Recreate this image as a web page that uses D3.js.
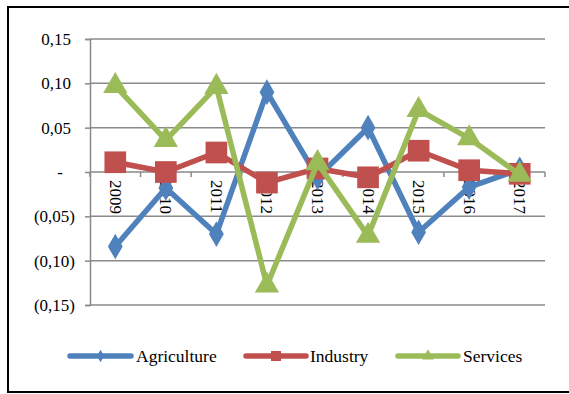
<!DOCTYPE html>
<html>
<head>
<meta charset="utf-8">
<script src="https://cdn.jsdelivr.net/npm/d3@7/dist/d3.min.js"></script>
<style>
  html, body { margin: 0; padding: 0; background: #fff; }
  svg { display: block; }
</style>
</head>
<body>
<svg id="chart" width="569" height="394" font-family="'Liberation Serif', 'Times New Roman', Times, serif"></svg>
<script>
// Annual growth rates by sector
const years = ["2009", "2010", "2011", "2012", "2013", "2014", "2015", "2016", "2017"];
const agriculture = [-0.084, -0.018, -0.070, 0.090, -0.006, 0.050, -0.068, -0.017, 0.003];
const industry    = [0.011, 0.000, 0.022, -0.012, 0.004, -0.006, 0.024, 0.002, -0.002];
const services    = [0.097, 0.036, 0.096, -0.128, 0.010, -0.072, 0.070, 0.038, -0.003];
const yTicks = [0.15, 0.10, 0.05, 0, -0.05, -0.10, -0.15];
const seriesNames = ["Agriculture", "Industry", "Services"];

const colors = { Agriculture: "#4F81BD", Industry: "#C0504D", Services: "#9BBB59" };
const shapes = { Agriculture: d3.symbolDiamond, Industry: d3.symbolSquare, Services: d3.symbolTriangle };
const markerSize = { Agriculture: 190, Industry: 470, Services: 255 };
const legendMarkerSize = { Agriculture: 45, Industry: 100, Services: 60 };
const FONT = "Liberation Serif";

const svg = d3.select("#chart");

// Outer frame
svg.append("rect")
  .attr("x", 8).attr("y", 7).attr("width", 580).attr("height", 385)
  .attr("fill", "none").attr("stroke", "#000").attr("stroke-width", 2);

const x = d3.scaleBand().domain(years).range([90, 545]).paddingInner(0).paddingOuter(0);
const y = d3.scaleLinear().domain([-0.15, 0.15]).range([305, 39]);

const grid = "#8a8a8a";

// Horizontal gridlines
svg.append("g").selectAll("line").data(yTicks).join("line")
  .attr("x1", x.range()[0]).attr("x2", x.range()[1])
  .attr("y1", d => y(d)).attr("y2", d => y(d))
  .attr("stroke", grid).attr("stroke-width", 1.5);

// Vertical axis with ticks
const yAxis = d3.axisLeft(y).tickValues(yTicks).tickSize(5).tickFormat(() => "");
const gy = svg.append("g").attr("transform", `translate(${x.range()[0]},0)`).call(yAxis);
gy.select(".domain").attr("stroke", grid).attr("stroke-width", 1.5);
gy.selectAll(".tick line").attr("stroke", grid).attr("stroke-width", 1.5);

// Value labels in accounting style
function fmt(v) {
  if (v === 0) return "-";
  const s = Math.abs(v).toFixed(2).replace(".", ",");
  return v < 0 ? `(${s})` : s;
}
svg.append("g").selectAll("text").data(yTicks).join("text")
  .attr("x", d => d === 0 ? 60 : (d < 0 ? 75 : 71))
  .attr("y", d => y(d))
  .attr("dy", "0.35em")
  .attr("text-anchor", d => d === 0 ? "middle" : "end")
  .attr("font-family", FONT)
  .attr("font-size", 17)
  .text(fmt);

// Category axis along zero, ticks at boundaries
const bounds = years.map(d => x(d)).concat([x.range()[1]]);
svg.append("g").selectAll("line").data(bounds).join("line")
  .attr("x1", d => d).attr("x2", d => d)
  .attr("y1", y(0)).attr("y2", y(0) + 5)
  .attr("stroke", grid).attr("stroke-width", 1.5);

// Series lines and markers
const line = d3.line().x((d, i) => x(years[i]) + x.bandwidth() / 2).y(d => y(d));
const data = { Agriculture: agriculture, Industry: industry, Services: services };

svg.append("g").selectAll("text").data(years).join("text")
  .attr("transform", d => `translate(${x(d) + x.bandwidth() / 2},${y(0) + 8}) rotate(90)`)
  .attr("dominant-baseline", "central")
  .attr("text-anchor", "start")
  .attr("font-family", FONT)
  .attr("font-size", 17)
  .text(d => d);

seriesNames.forEach(name => {
  const g = svg.append("g");
  g.append("path").datum(data[name])
    .attr("d", line).attr("fill", "none")
    .attr("stroke", colors[name]).attr("stroke-width", 5.5)
    .attr("stroke-linejoin", "round");
  g.selectAll("path.m").data(data[name]).join("path").attr("class", "m")
    .attr("transform", (d, i) => `translate(${x(years[i]) + x.bandwidth() / 2},${y(d)})`)
    .attr("d", d3.symbol().type(shapes[name]).size(markerSize[name]))
    .attr("fill", colors[name]);
});

// Legend
const legend = [
  { name: "Agriculture", x1: 70, x2: 131, tx: 136 },
  { name: "Industry", x1: 246, x2: 306, tx: 310 },
  { name: "Services", x1: 398, x2: 458, tx: 463 }
];
const ly = 356;
legend.forEach(l => {
  svg.append("line")
    .attr("x1", l.x1).attr("x2", l.x2).attr("y1", ly).attr("y2", ly)
    .attr("stroke", colors[l.name]).attr("stroke-width", 5.5).attr("stroke-linecap", "round");
  svg.append("path")
    .attr("transform", `translate(${(l.x1 + l.x2) / 2},${ly})`)
    .attr("d", d3.symbol().type(shapes[l.name]).size(legendMarkerSize[l.name]))
    .attr("fill", colors[l.name]);
  svg.append("text")
    .attr("x", l.tx).attr("y", ly).attr("dy", "0.35em")
    .attr("font-family", FONT)
    .attr("font-size", 17.5)
    .text(l.name);
});
</script>
</body>
</html>
